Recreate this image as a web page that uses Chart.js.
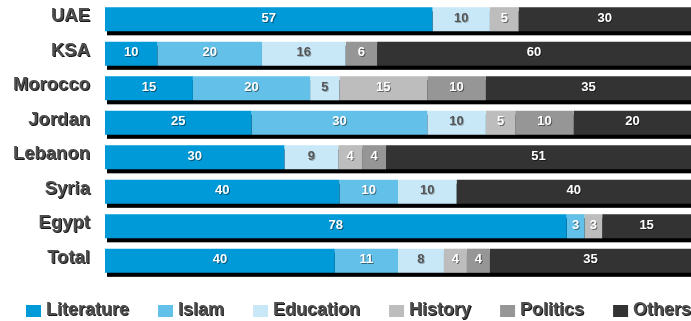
<!DOCTYPE html>
<html>
<head>
<meta charset="utf-8">
<script src="https://cdn.jsdelivr.net/npm/chart.js@4.4.1/dist/chart.umd.min.js"></script>
<style>
  html, body { margin: 0; padding: 0; background: #fff; }
  #wrap { width: 691px; height: 321px; }
</style>
</head>
<body>
<div id="wrap"><canvas id="c"></canvas></div>
<script>
const FONT = '"Liberation Sans", Arial, Helvetica, sans-serif';

// Rows of the chart
const categories = ['UAE', 'KSA', 'Morocco', 'Jordan', 'Lebanon', 'Syria', 'Egypt', 'Total'];

// Share of each topic per row (null = topic not present)
const literature = [57, 10, 15, 25, 30, 40, 78, 40];
const islam      = [null, 20, 20, 30, null, 10, 3, 11];
const education  = [10, 16, 5, 10, 9, 10, null, 8];
const history    = [5, null, 15, 5, 4, null, 3, 4];
const politics   = [null, 6, 10, 10, 4, null, null, 4];
const others     = [30, 60, 35, 20, 51, 40, 15, 35];

const seriesNames  = ['Literature', 'Islam', 'Education', 'History', 'Politics', 'Others'];
const seriesValues = [literature, islam, education, history, politics, others];
const seriesColors = ['#009ad9', '#63c0e8', '#c9e8f7', '#bdbdbd', '#969696', '#333333'];
const labelColors  = ['#ffffff', '#ffffff', '#555555', '#ffffff', '#ffffff', '#ffffff'];

// Each bar is scaled to the full width (100% stacked)
const rowTotals = categories.map((_, i) =>
  seriesValues.reduce((s, arr) => s + (arr[i] || 0), 0));

const datasets = seriesNames.map((name, k) => ({
  label: name,
  values: seriesValues[k],
  data: seriesValues[k].map((v, i) => v == null ? null : v / rowTotals[i] * 100),
  backgroundColor: seriesColors[k],
  borderWidth: 0,
  categoryPercentage: 1,
  barPercentage: 0.7
}));

const AXIS_TEXT = '#4f4f4f';
const TEXT_SHADOW = '#161616';
const AXIS_FONT_SIZE = 18.5;
const LABEL_PAD = 15;
const LABEL_SHIFT = -3;

// Text with a hard 1px drop shadow
function shadowText(ctx, text, x, y, color, shade) {
  ctx.fillStyle = shade;
  ctx.fillText(text, x + 1, y + 1);
  ctx.fillStyle = color;
  ctx.fillText(text, x, y);
}

const decorations = {
  id: 'decorations',
  // shadow copies of the category labels, painted before the axis draws on top
  beforeDraw(chart) {
    const ctx = chart.ctx;
    const scale = chart.scales.y;
    ctx.save();
    ctx.font = `bold ${AXIS_FONT_SIZE}px ${FONT}`;
    ctx.textAlign = 'right';
    ctx.textBaseline = 'middle';
    ctx.fillStyle = TEXT_SHADOW;
    categories.forEach((name, i) => {
      const y = scale.getPixelForTick(i) + LABEL_SHIFT;
      ctx.fillText(name, scale.right - LABEL_PAD + 1, y + 1);
    });
    ctx.restore();
  },
  // black strip under each stacked bar
  beforeDatasetsDraw(chart) {
    const ctx = chart.ctx;
    const metas = chart.data.datasets.map((_, di) => chart.getDatasetMeta(di));
    ctx.save();
    ctx.fillStyle = '#000000';
    categories.forEach((_, i) => {
      let left = Infinity, right = -Infinity, y = null, h = 0;
      metas.forEach(m => {
        const b = m.data[i];
        if (!b) return;
        const p = b.getProps(['x', 'base', 'y', 'height'], true);
        if (!isFinite(p.x) || !isFinite(p.base)) return;
        left = Math.min(left, p.x, p.base);
        right = Math.max(right, p.x, p.base);
        y = p.y; h = p.height;
      });
      if (y === null) return;
      ctx.fillRect(left + 2, y - h / 2 + 4, right - left, h);
    });
    ctx.restore();
  },
  // value printed in the middle of every segment
  afterDatasetsDraw(chart) {
    const ctx = chart.ctx;
    ctx.save();
    ctx.font = `bold 13px ${FONT}`;
    ctx.textAlign = 'center';
    ctx.textBaseline = 'middle';
    chart.data.datasets.forEach((ds, di) => {
      const meta = chart.getDatasetMeta(di);
      meta.data.forEach((bar, i) => {
        const v = ds.values[i];
        if (v == null) return;
        const { x, base, y } = bar.getProps(['x', 'base', 'y'], true);
        const shade = di === 2 ? 'rgba(0,0,0,0.25)' : 'rgba(0,0,0,0.45)';
        shadowText(ctx, String(v), (x + base) / 2, y - 1, labelColors[di], shade);
      });
    });
    ctx.restore();
  },
  // legend row
  afterDraw(chart) {
    const ctx = chart.ctx;
    const area = chart.chartArea;
    ctx.save();
    ctx.font = `bold 18px ${FONT}`;
    ctx.textAlign = 'left';
    ctx.textBaseline = 'alphabetic';
    const boxW = 15, boxH = 12, textGap = 5, itemGap = 29;
    const boxTop = area.bottom + 27;
    const baseline = area.bottom + 37;
    let x = 26;
    seriesNames.forEach((name, i) => {
      ctx.fillStyle = seriesColors[i];
      ctx.fillRect(x, boxTop, boxW, boxH);
      shadowText(ctx, name, x + boxW + textGap, baseline, AXIS_TEXT, TEXT_SHADOW);
      x += boxW + textGap + ctx.measureText(name).width + itemGap;
    });
    ctx.restore();
  }
};

new Chart(document.getElementById('c'), {
  type: 'bar',
  data: { labels: categories, datasets },
  options: {
    indexAxis: 'y',
    responsive: true,
    maintainAspectRatio: false,
    animation: false,
    layout: { padding: { top: 2, bottom: 43, left: 0, right: 0 } },
    plugins: {
      legend: { display: false },
      tooltip: { enabled: false }
    },
    scales: {
      x: { stacked: true, display: false, min: 0, max: 100 },
      y: {
        stacked: true,
        grid: { display: false, drawTicks: false },
        border: { display: false },
        ticks: {
          color: AXIS_TEXT,
          padding: LABEL_PAD,
          labelOffset: LABEL_SHIFT,
          font: { family: FONT, size: AXIS_FONT_SIZE, weight: 'bold' }
        },
        afterFit(scale) {
          scale.width = 105;
          scale.paddingTop = 0;
          scale.paddingBottom = 0;
        }
      }
    }
  },
  plugins: [decorations]
});
</script>
</body>
</html>
